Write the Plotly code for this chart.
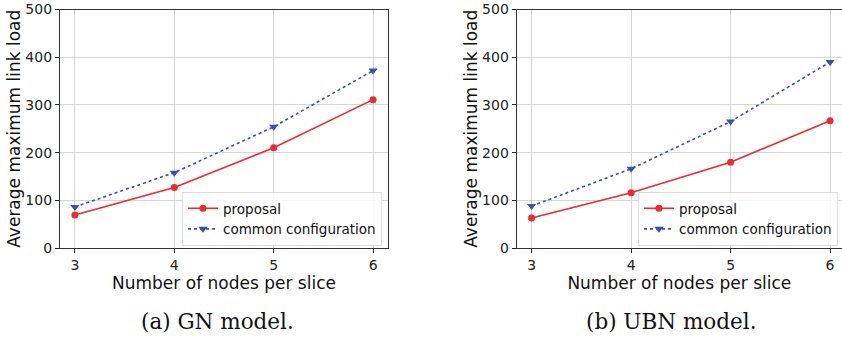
import plotly.graph_objects as go

nodes = [3, 4, 5, 6]
gn_proposal = [69, 127, 210, 311]
gn_common = [86, 158, 254, 372]
ubn_proposal = [63, 116, 180, 267]
ubn_common = [88, 166, 265, 390]
y_ticks = [0, 100, 200, 300, 400, 500]
captions = ["(a) GN model.", "(b) UBN model."]

W, H = 842, 337
RED = "#ee2a2e"
BLUE = "#3a4fae"
FONT = "DejaVu Sans"

fig = go.Figure()

def add_series(xref, yref, prop, comm, legend):
    fig.add_trace(go.Scatter(
        x=nodes, y=prop, name="proposal", mode="lines+markers",
        line=dict(color=RED, width=1.6), marker=dict(symbol="circle", size=7, color=RED),
        xaxis=xref, yaxis=yref, legend=legend))
    fig.add_trace(go.Scatter(
        x=nodes, y=comm, name="common configuration", mode="lines+markers",
        line=dict(color=BLUE, width=1.6, dash="dot"),
        marker=dict(symbol="triangle-down", size=8, color=BLUE),
        xaxis=xref, yaxis=yref, legend=legend))

add_series("x", "y", gn_proposal, gn_common, "legend")
add_series("x2", "y2", ubn_proposal, ubn_common, "legend2")

ydom = [1 - 248 / H, 1 - 9.5 / H]
common_x = dict(
    tickvals=nodes, ticks="outside", ticklen=4, tickcolor="#222",
    showgrid=True, gridcolor="#d6d6d6", gridwidth=1,
    showline=True, linecolor="#333", linewidth=1.2,
    zeroline=False, tickfont=dict(family=FONT, size=14, color="#222"),
    ticklabeloverflow="allow", automargin=False,
    title=dict(text="Number of nodes per slice", font=dict(family=FONT, size=17, color="#111"), standoff=4),
)
common_y = dict(
    range=[0, 500], tickvals=y_ticks, ticks="outside", ticklen=4, tickcolor="#222",
    showgrid=True, gridcolor="#d6d6d6", gridwidth=1,
    showline=True, linecolor="#333", linewidth=1.2,
    zeroline=False, tickfont=dict(family=FONT, size=14, color="#222"),
    ticklabeloverflow="allow", automargin=False,
    title=dict(text="Average maximum link load", font=dict(family=FONT, size=17, color="#111"), standoff=0),
)

fig.update_layout(
    width=W, height=H, margin=dict(l=0, r=0, t=0, b=0),
    paper_bgcolor="white", plot_bgcolor="white",
    xaxis=dict(domain=[60 / W, 388 / W], range=[2.85, 6.15], mirror=True, anchor="y", **common_x),
    yaxis=dict(domain=ydom, mirror=True, anchor="x", **common_y),
    xaxis2=dict(domain=[516.7 / W, 1.0], range=[2.85, 6.12], mirror=True, anchor="y2", **common_x),
    yaxis2=dict(domain=ydom, mirror=False, anchor="x2", **common_y),
    legend=dict(x=382 / W, y=1 - 246 / H, xanchor="right", yanchor="bottom",
                bgcolor="rgba(255,255,255,0.85)", bordercolor="#dddddd", borderwidth=1,
                font=dict(family=FONT, size=13.5, color="#111"), tracegroupgap=0,
                itemwidth=30),
    legend2=dict(x=838 / W, y=1 - 246 / H, xanchor="right", yanchor="bottom",
                 bgcolor="rgba(255,255,255,0.85)", bordercolor="#dddddd", borderwidth=1,
                 font=dict(family=FONT, size=13.5, color="#111"), tracegroupgap=0,
                 itemwidth=30),
    showlegend=True,
)

for cx, text in zip([217, 671], captions):
    fig.add_annotation(x=cx / W, y=2 / H, xref="paper", yref="paper",
                       text=text, showarrow=False, xanchor="center", yanchor="bottom",
                       borderpad=0,
                       font=dict(family="DejaVu Serif", size=21.5, color="#111"))

fig.write_html("out.html")
